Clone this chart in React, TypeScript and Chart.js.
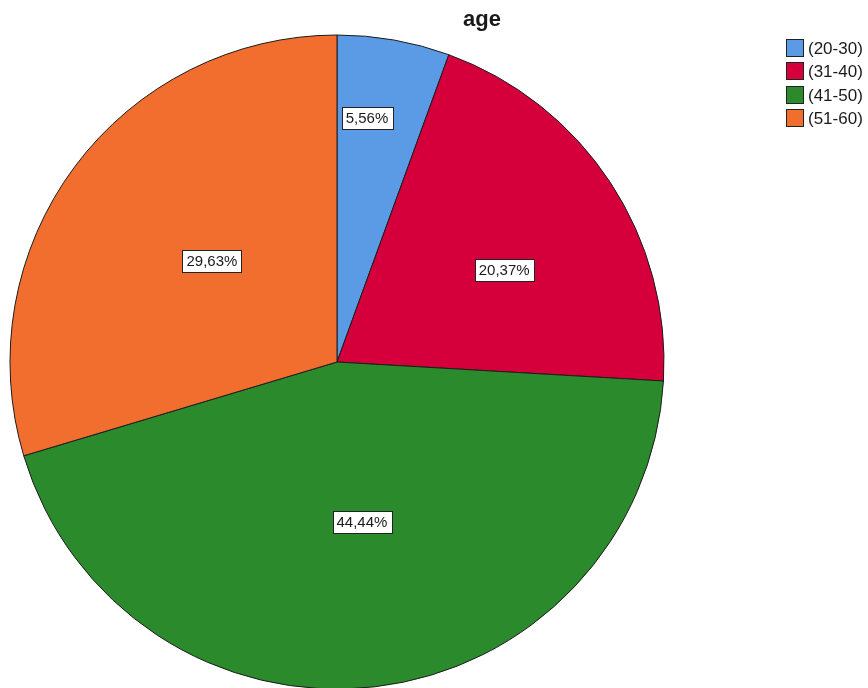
import React, { useEffect, useRef } from "react";
import { Chart, registerables } from "chart.js";

Chart.register(...registerables);

const chartTitle = "age";
const categories = ["(20-30)", "(31-40)", "(41-50)", "(51-60)"];
const counts = [3, 11, 24, 16];
const sliceColors = ["#5b9be6", "#d5003b", "#2a8a2c", "#f26e2f"];

// label anchor style per slice: fraction of radius, angle nudge in degrees
const labelPlacement = [
  { r: 0.752, da: -3 },
  { r: 0.584, da: 4.4 },
  { r: 0.495, da: -2.2 },
  { r: 0.492, da: 2.3 },
];

const FONT = "Arial, 'Liberation Sans', sans-serif";

const spssPlugin = {
  id: "spssDecor",
  afterDraw(chart: any) {
    const ctx: CanvasRenderingContext2D = chart.ctx;
    const meta = chart.getDatasetMeta(0);
    const data: number[] = chart.data.datasets[0].data;
    const total = data.reduce((a: number, b: number) => a + b, 0);
    ctx.save();

    // slice percentage labels
    ctx.font = `15px ${FONT}`;
    ctx.textAlign = "center";
    ctx.textBaseline = "middle";
    meta.data.forEach((arc: any, i: number) => {
      const p = arc.getProps(["x", "y", "startAngle", "endAngle", "outerRadius"], true);
      const pl = labelPlacement[i] || { r: 0.6, da: 0 };
      const mid = (p.startAngle + p.endAngle) / 2 + (pl.da * Math.PI) / 180;
      const cx = p.x + Math.cos(mid) * p.outerRadius * pl.r;
      const cy = p.y + Math.sin(mid) * p.outerRadius * pl.r;
      const txt = ((data[i] / total) * 100).toFixed(2).replace(".", ",") + "%";
      const w = ctx.measureText(txt).width + 8;
      const h = 22;
      const bx = Math.round(cx - w / 2) + 0.5;
      const by = Math.round(cy - h / 2) + 0.5;
      ctx.fillStyle = "#ffffff";
      ctx.fillRect(bx, by, Math.round(w), h);
      ctx.strokeStyle = "#222222";
      ctx.lineWidth = 1;
      ctx.strokeRect(bx, by, Math.round(w), h);
      ctx.fillStyle = "#1a1a1a";
      ctx.fillText(txt, cx, cy + 1);
    });

    // title
    ctx.font = `bold 22px ${FONT}`;
    ctx.textAlign = "center";
    ctx.textBaseline = "alphabetic";
    ctx.fillStyle = "#1a1a1a";
    ctx.fillText(chartTitle, 482, 26);

    // legend
    const labels: string[] = chart.data.labels;
    const colors: string[] = chart.data.datasets[0].backgroundColor;
    ctx.font = `17px ${FONT}`;
    ctx.textAlign = "left";
    ctx.textBaseline = "middle";
    labels.forEach((lab, i) => {
      const top = 39 + i * 23.4;
      const bx = 786.5;
      const by = Math.round(top) + 0.5;
      ctx.fillStyle = colors[i];
      ctx.fillRect(bx, by, 17, 17);
      ctx.strokeStyle = "#222222";
      ctx.lineWidth = 1;
      ctx.strokeRect(bx, by, 17, 17);
      ctx.fillStyle = "#1a1a1a";
      ctx.fillText(lab, 808, by + 9.5);
    });
    ctx.restore();
  },
};

export default function App() {
  const canvasRef = useRef<HTMLCanvasElement | null>(null);

  useEffect(() => {
    if (!canvasRef.current) return;
    const chart = new Chart(canvasRef.current, {
      type: "pie",
      data: {
        labels: categories,
        datasets: [
          {
            data: counts,
            backgroundColor: sliceColors,
            borderColor: "#1c1c1c",
            borderWidth: 1,
            radius: 327,
          } as any,
        ],
      },
      options: {
        animation: false,
        responsive: false,
        maintainAspectRatio: false,
        layout: { padding: { left: 10, top: 36, right: 204, bottom: 0 } },
        plugins: {
          legend: { display: false },
          title: { display: false },
          tooltip: { enabled: false },
        },
      },
      plugins: [spssPlugin],
    });
    return () => chart.destroy();
  }, []);

  return (
    <div style={{ position: "absolute", left: 0, top: 0, width: 868, height: 688, background: "#ffffff" }}>
      <canvas ref={canvasRef} width={868} height={688} style={{ width: 868, height: 688, display: "block" }} />
    </div>
  );
}
